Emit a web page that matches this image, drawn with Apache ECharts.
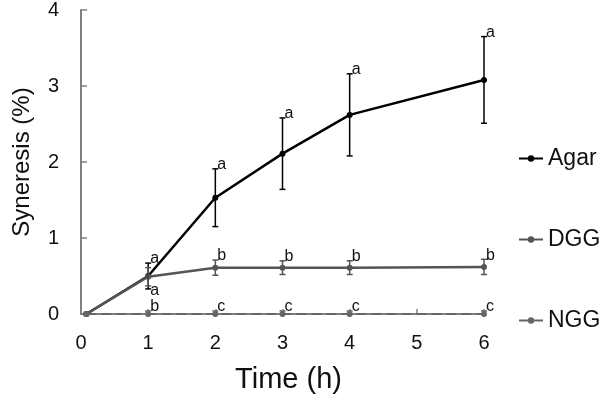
<!DOCTYPE html>
<html><head><meta charset="utf-8">
<script src="https://cdn.jsdelivr.net/npm/echarts@6/dist/echarts.min.js"></script>
<style>html,body{margin:0;padding:0;background:#fff}#c{width:600px;height:398px}</style>
</head><body><div id="c"></div>
<script>
const times = [0.08, 1, 2, 3, 4, 6];
const agar = [0, 0.50, 1.53, 2.11, 2.62, 3.08];
const agarErr = [0, 0.17, 0.38, 0.47, 0.54, 0.57];
const dgg = [0, 0.49, 0.61, 0.61, 0.61, 0.62];
const dggErr = [0, 0.12, 0.10, 0.09, 0.09, 0.10];
const ngg = [0, 0, 0, 0, 0, 0];
const nggErr = [0, 0.04, 0.04, 0.04, 0.04, 0.04];
const agarLetters = ['', 'a', 'a', 'a', 'a', 'a'];
const dggLetters = ['', 'a', 'b', 'b', 'b', 'b'];
const nggLetters = ['', 'b', 'c', 'c', 'c', 'c'];
const xTicks = [0, 1, 2, 3, 4, 5, 6];
const yTicks = [0, 1, 2, 3, 4];

const FONT = 'Liberation Sans, Arial, sans-serif';

function pts(vals) { return times.map((t, i) => [t, vals[i]]); }
function errData(vals, errs, letters) {
  return times.map((t, i) => [t, vals[i] - errs[i], vals[i] + errs[i], letters[i], vals[i]]);
}
function errSeries(name, vals, errs, letters, color, belowIdx) {
  return {
    type: 'custom', name: name + 'err', z: 5,
    data: errData(vals, errs, letters),
    renderItem: function (params, api) {
      const x = api.value(0);
      const lo = api.coord([x, api.value(1)]);
      const hi = api.coord([x, api.value(2)]);
      const letter = api.value(3);
      const children = [];
      const style = { stroke: color, lineWidth: 1.5 };
      if (api.value(2) !== api.value(1)) {
        children.push({ type: 'line', shape: { x1: lo[0], y1: lo[1], x2: hi[0], y2: hi[1] }, style: style });
        children.push({ type: 'line', shape: { x1: hi[0] - 3, y1: hi[1], x2: hi[0] + 3, y2: hi[1] }, style: style });
        if (api.value(1) >= 0) children.push({ type: 'line', shape: { x1: lo[0] - 3, y1: lo[1], x2: lo[0] + 3, y2: lo[1] }, style: style });
      }
      if (letter) {
        const below = params.dataIndex === belowIdx;
        children.push({
          type: 'text',
          style: {
            text: letter, x: hi[0] + 2, y: below ? lo[1] + 5 : hi[1] - 4,
            fill: '#111', font: '16px ' + FONT, verticalAlign: 'middle', align: 'left'
          }
        });
      }
      return { type: 'group', children: children };
    },
    silent: true
  };
}

const chart = echarts.init(document.getElementById('c'), null, { renderer: 'canvas' });
chart.setOption({
  animation: false,
  backgroundColor: '#fff',
  grid: { left: 81, right: 116, top: 10, bottom: 84, containLabel: false, outerBoundsMode: 'none' },
  legend: {
    orient: 'vertical', left: 513, top: 142, itemGap: 58, itemWidth: 24, itemHeight: 8,
    textStyle: { fontSize: 23, color: '#111', fontFamily: FONT },
    data: ['Agar', 'DGG', 'NGG']
  },
  xAxis: {
    type: 'value', min: 0, max: 6, interval: 1,
    name: 'Time (h)', nameLocation: 'middle', nameGap: 51,
    nameTextStyle: { fontSize: 29, color: '#111', fontFamily: FONT, padding: [0, 0, 0, 12] },
    axisLine: { lineStyle: { color: '#808080', width: 2 } },
    axisTick: { inside: true, length: 5, lineStyle: { color: '#808080', width: 1.5 } },
    axisLabel: { fontSize: 20, color: '#111', margin: 19, fontFamily: FONT, formatter: v => xTicks.includes(v) ? String(v) : '' },
    splitLine: { show: false }
  },
  yAxis: {
    type: 'value', min: 0, max: 4, interval: 1,
    name: 'Syneresis (%)', nameLocation: 'middle', nameGap: 47,
    nameTextStyle: { fontSize: 24, color: '#111', fontFamily: FONT },
    axisLine: { show: true, lineStyle: { color: '#808080', width: 2 } },
    axisTick: { show: true, inside: true, length: 6, lineStyle: { color: '#808080', width: 1.5 } },
    axisLabel: { fontSize: 20, color: '#111', margin: 22, fontFamily: FONT, formatter: v => yTicks.includes(v) ? String(v) : '' },
    splitLine: { show: false }
  },
  series: [
    { name: 'Agar', type: 'line', data: pts(agar), z: 3, symbol: 'circle', symbolSize: 6,
      lineStyle: { color: '#000', width: 2.5 }, itemStyle: { color: '#000' } },
    { name: 'DGG', type: 'line', data: pts(dgg), z: 4, symbol: 'circle', symbolSize: 6,
      lineStyle: { color: '#555', width: 2.5 }, itemStyle: { color: '#555' } },
    { name: 'NGG', type: 'line', data: pts(ngg), z: 4, symbol: 'circle', symbolSize: 6,
      lineStyle: { color: '#666', width: 2, type: [10, 5] }, itemStyle: { color: '#666' } },
    errSeries('Agar', agar, agarErr, agarLetters, '#000', -1),
    errSeries('DGG', dgg, dggErr, dggLetters, '#555', 1),
    errSeries('NGG', ngg, nggErr, nggLetters, '#666', -1)
  ]
});
</script></body></html>
